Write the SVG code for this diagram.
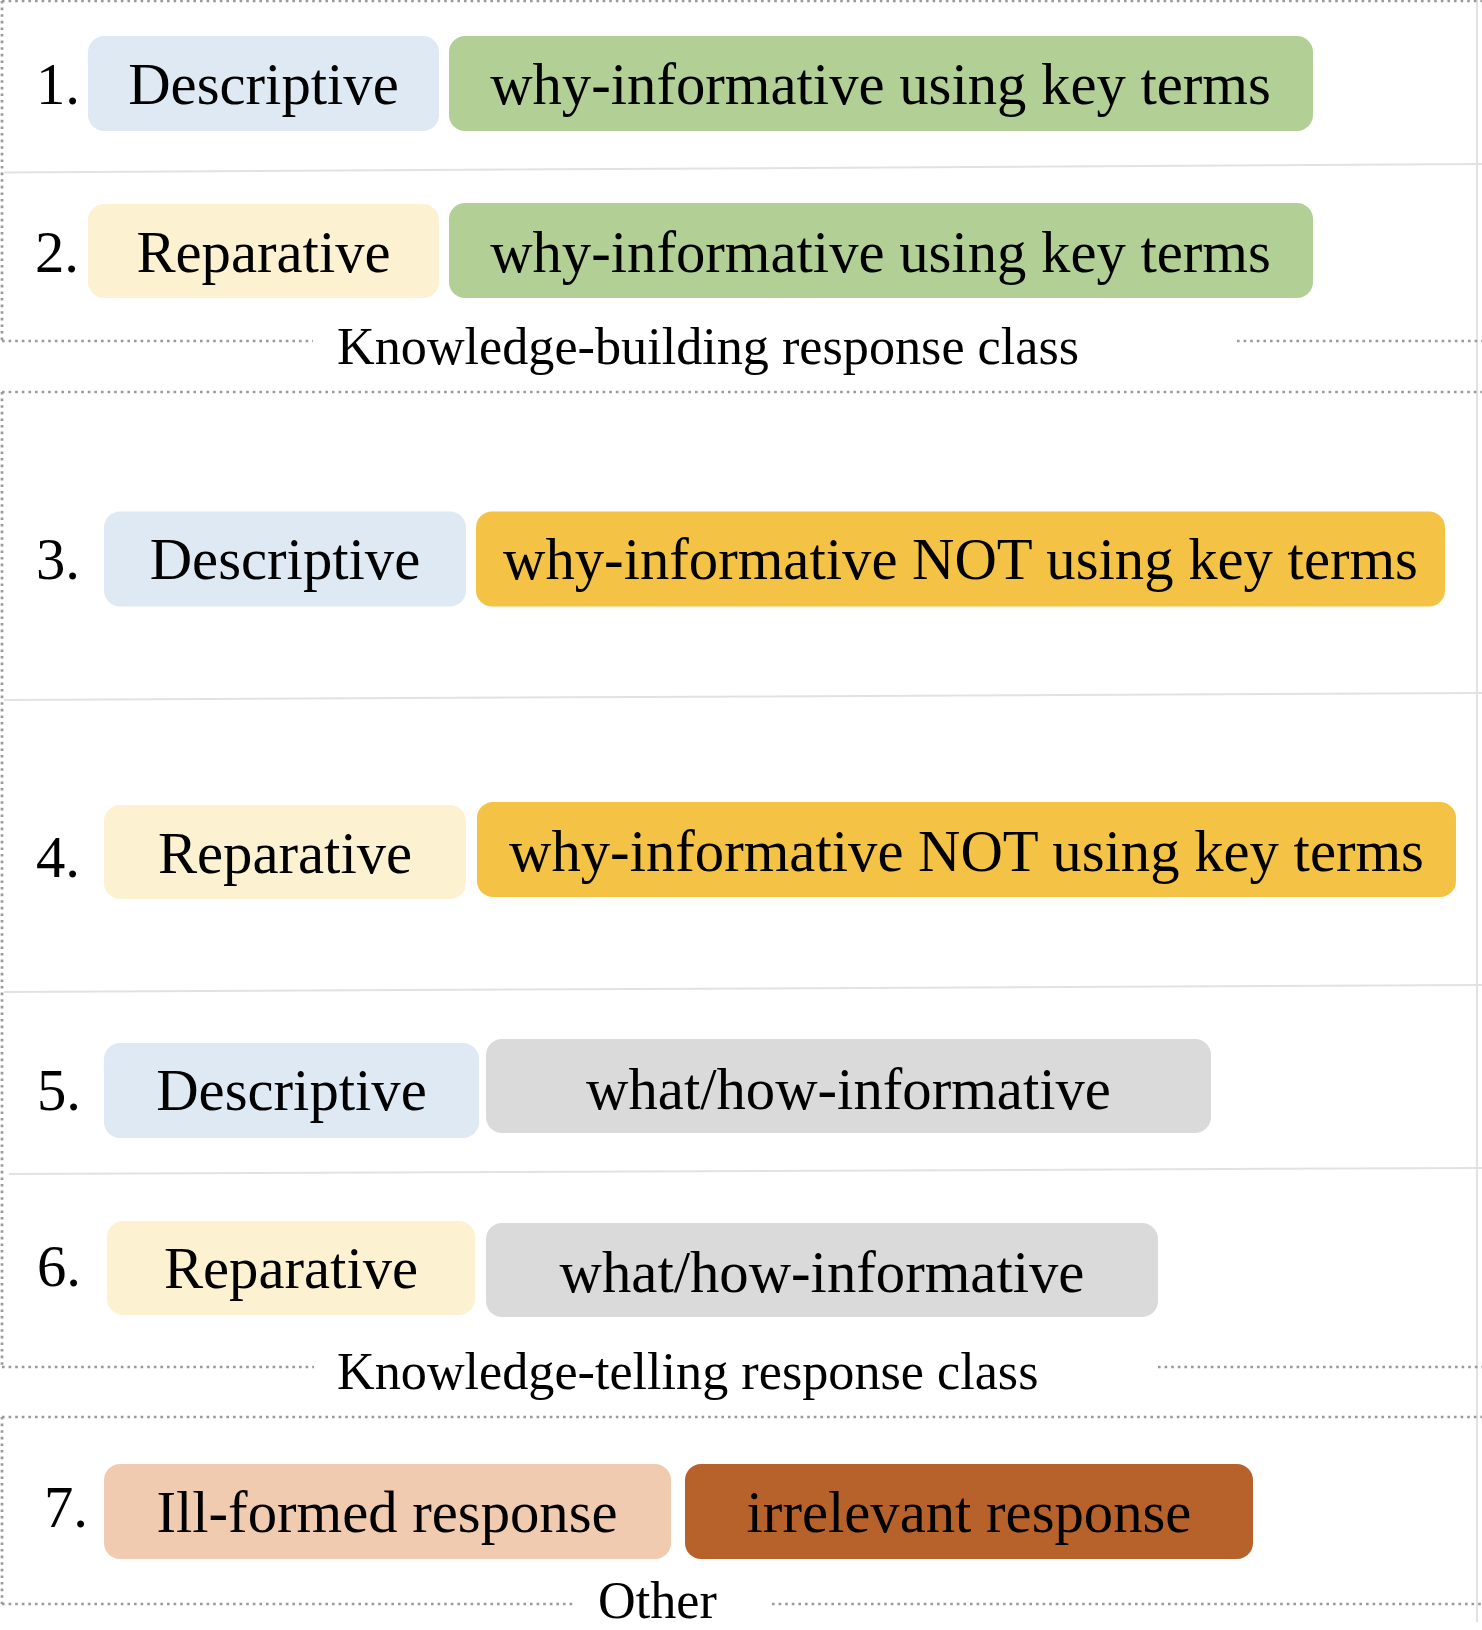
<svg xmlns="http://www.w3.org/2000/svg" width="1482" height="1630" viewBox="0 0 1482 1630">
  <style>
    text { font-family: "Liberation Serif", "Times New Roman", serif; fill: #000; }
    .lbl { font-size: 58.7px; text-anchor: middle; }
    .num { font-size: 58.7px; }
    .cls { font-size: 52.2px; }
    .dot { fill: none; stroke: #9a9a9a; stroke-width: 2.7; stroke-dasharray: 2.6 4; }
    .sep { fill: none; stroke: #e2e2e2; stroke-width: 2; }
    .desc { fill: #dfe9f4; }
    .repa { fill: #fcf1d0; }
    .why { fill: #b2cf96; }
    .whynot { fill: #f4c244; }
    .what { fill: #dadada; }
    .ill { fill: #f1cbaf; }
    .irr { fill: #b8622b; }
  </style>
  <rect width="1482" height="1630" fill="#ffffff"/>

  <!-- frames around each response class, and row separators -->
  <g id="frames">
    <line class="sep" x1="1477" y1="0" x2="1477" y2="1622"/>
    <!-- knowledge-building -->
    <path class="dot" d="M2,1 H1482"/>
    <path class="dot" d="M2,1 V341"/>
    <path class="dot" d="M2,341 H313"/>
    <path class="dot" d="M1237,341 H1482"/>
    <line class="sep" x1="4" y1="172.5" x2="1482" y2="164"/>
    <!-- knowledge-telling -->
    <path class="dot" d="M2,392 H1482"/>
    <path class="dot" d="M2,392 V1367"/>
    <path class="dot" d="M2,1367 H314"/>
    <path class="dot" d="M1158,1367 H1482"/>
    <line class="sep" x1="4" y1="700" x2="1482" y2="693"/>
    <line class="sep" x1="4" y1="992" x2="1482" y2="985"/>
    <line class="sep" x1="9" y1="1174" x2="1482" y2="1168"/>
    <!-- other -->
    <path class="dot" d="M2,1417 H1482"/>
    <path class="dot" d="M2,1417 V1604"/>
    <path class="dot" d="M2,1604 H573"/>
    <path class="dot" d="M772,1604 H1482"/>
  </g>

  <g id="class-labels">
    <text class="cls" x="337" y="364">Knowledge-building response class</text>
    <text class="cls" x="337" y="1389">Knowledge-telling response class</text>
    <text class="cls" x="598" y="1618">Other</text>
  </g>

  <g id="row1">
    <text class="num" x="36" y="104">1.</text>
    <rect class="desc" x="88" y="36" width="351" height="95" rx="16"/>
    <text class="lbl" x="263.5" y="104">Descriptive</text>
    <rect class="why" x="449" y="36" width="864" height="95" rx="16"/>
    <text class="lbl" x="880.5" y="104">why-informative using key terms</text>
  </g>

  <g id="row2">
    <text class="num" x="35" y="272">2.</text>
    <rect class="repa" x="88" y="204" width="351" height="94" rx="16"/>
    <text class="lbl" x="263.5" y="272">Reparative</text>
    <rect class="why" x="449" y="203" width="864" height="95" rx="16"/>
    <text class="lbl" x="880.5" y="272">why-informative using key terms</text>
  </g>

  <g id="row3">
    <text class="num" x="36" y="579">3.</text>
    <rect class="desc" x="104" y="511.5" width="362" height="95" rx="16"/>
    <text class="lbl" x="285" y="579">Descriptive</text>
    <rect class="whynot" x="476" y="511.5" width="969" height="95" rx="16"/>
    <text class="lbl" x="960.5" y="579">why-informative NOT using key terms</text>
  </g>

  <g id="row4">
    <text class="num" x="36" y="877">4.</text>
    <rect class="repa" x="104" y="805" width="362" height="94" rx="16"/>
    <text class="lbl" x="285" y="873">Reparative</text>
    <rect class="whynot" x="477" y="802" width="979" height="95" rx="16"/>
    <text class="lbl" x="966.5" y="871">why-informative NOT using key terms</text>
  </g>

  <g id="row5">
    <text class="num" x="37" y="1110">5.</text>
    <rect class="desc" x="104" y="1043" width="375" height="95" rx="16"/>
    <text class="lbl" x="291.5" y="1110">Descriptive</text>
    <rect class="what" x="486" y="1039" width="725" height="94" rx="16"/>
    <text class="lbl" x="848.5" y="1109">what/how-informative</text>
  </g>

  <g id="row6">
    <text class="num" x="37" y="1286">6.</text>
    <rect class="repa" x="107" y="1221" width="368" height="94" rx="16"/>
    <text class="lbl" x="291" y="1288">Reparative</text>
    <rect class="what" x="486" y="1223" width="672" height="94" rx="16"/>
    <text class="lbl" x="822" y="1292">what/how-informative</text>
  </g>

  <g id="row7">
    <text class="num" x="44" y="1527">7.</text>
    <rect class="ill" x="104" y="1464" width="567" height="95" rx="16"/>
    <text class="lbl" x="387" y="1532">Ill-formed response</text>
    <rect class="irr" x="685" y="1464" width="568" height="95" rx="16"/>
    <text class="lbl" x="969" y="1532">irrelevant response</text>
  </g>
</svg>
